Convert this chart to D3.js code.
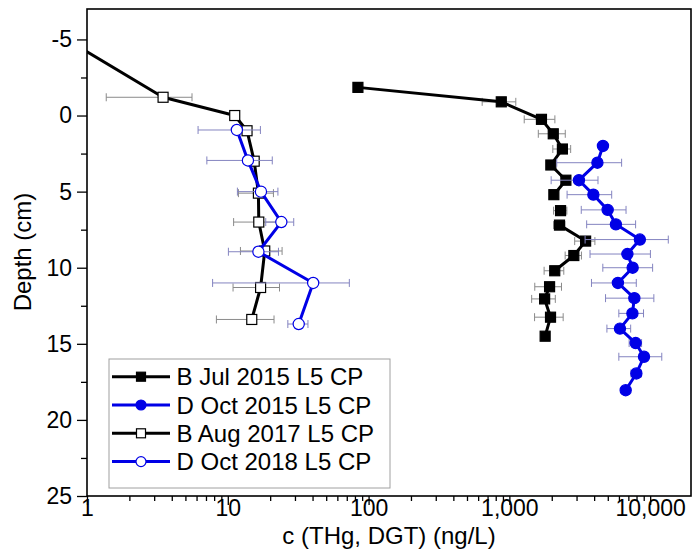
<!DOCTYPE html>
<html>
<head>
<meta charset="utf-8">
<script src="https://cdn.jsdelivr.net/npm/d3@7"></script>
<style>
  html, body { margin: 0; padding: 0; background: #fff; }
  svg { display: block; font-family: "Liberation Sans", Arial, sans-serif; }
</style>
</head>
<body>
<div id="chart"></div>
<script>
// Depth profiles of THg (DGT) – log x axis, depth downwards

const SERIES_NAMES = ["B Jul 2015 L5 CP", "D Oct 2015 L5 CP", "B Aug 2017 L5 CP", "D Oct 2018 L5 CP"];

// B Jul 2015 (filled squares); null = break in the line
const B15_DEPTH = [-1.85, -0.9, 0.25, 1.2, 2.2, 3.25, 4.25, 5.2, null, 6.25, null, 7.2, 8.25, 9.2, 10.2, null, 11.25, 12.05, 13.25, 14.5];
const B15_CONC  = [84, 876, 1690, 2050, 2380, 1970, 2520, 2070, null, 2310, null, 2270, 3480, 2870, 2100, null, 1930, 1780, 1960, 1795];
const B15_ERR   = [null, 235, 415, 445, 345, null, null, null, null, 250, null, 210, 570, 380, 335, null, 415, 340, 450, null];

// D Oct 2015 (filled circles)
const D15_DEPTH = [2, 3.1, 4.25, 5.2, 6.2, 7.15, 8.15, 9.1, 10, 11, 12, 13, 14, 14.95, 15.85, 16.95, 18.05];
const D15_CONC  = [4620, 4220, 3120, 3950, 4990, 5710, 8450, 6890, 7510, 5900, 7720, 7480, 6100, 7890, 9040, 7980, 6700];
const D15_ERR   = [null, 2050, 1140, 1380, 1750, 2170, 5000, 3150, 2900, 2070, 2900, 1490, 1170, 800, 3050, 680, null];

// B Aug 2017 (open squares)
const B17_DEPTH = [-6.1, -1.2, 0, 1, 3, 5.1, 7, 8.9, 11.3, 13.4];
const B17_CONC  = [0.45, 3.47, 11.2, 13.7, 15.4, 16.5, 16.6, 18.3, 17.1, 14.8];
const B17_ERR   = [null, 2.1, null, null, null, 4.6, 5.6, 6, 6.2, 6.5];

// D Oct 2018 (open circles)
const D18_DEPTH = [0.95, 2.95, 5, 7, 8.95, 11, 13.7];
const D18_CONC  = [11.6, 13.9, 17.2, 24, 16.5, 40.4, 31.9];
const D18_ERR   = [5.45, 6.8, 5.5, 5.4, 6.4, 32.6, 5.2];

const X_TICKS = [1, 10, 100, 1000, 10000];
const Y_TICKS = [-5, 0, 5, 10, 15, 20, 25];
const Y_MINOR = [-2.5, 2.5, 7.5, 12.5, 17.5, 22.5];

const BLUE = "#0000e6";

/* ── Layout ── */
const totalW = 694, totalH = 555;
const margin = { top: 9, right: 3, bottom: 59, left: 87 };
const W = totalW - margin.left - margin.right;
const H = totalH - margin.top - margin.bottom;

const svg = d3.select("#chart").append("svg")
  .attr("width", totalW).attr("height", totalH);
const g = svg.append("g").attr("transform", `translate(${margin.left},${margin.top})`);

/* ── Scales ── */
const x = d3.scaleLog().domain([1, 19500]).range([0, W]);
const y = d3.scaleLinear().domain([-7, 25]).range([0, H]);

const zip = (dep, conc, err) => dep.map((d, i) => ({ depth: d, c: conc[i], e: err[i] }));
const series = [
  { data: zip(B15_DEPTH, B15_CONC, B15_ERR), color: "#000", bar: "#8a8a8a", shape: "square", fill: "#000" },
  { data: zip(D15_DEPTH, D15_CONC, D15_ERR), color: BLUE,   bar: "#8484c0", shape: "circle", fill: BLUE },
  { data: zip(B17_DEPTH, B17_CONC, B17_ERR), color: "#000", bar: "#8a8a8a", shape: "square", fill: "#fff" },
  { data: zip(D18_DEPTH, D18_CONC, D18_ERR), color: BLUE,   bar: "#8484c0", shape: "circle", fill: "#fff" },
];

/* ── Clip ── */
svg.append("defs").append("clipPath").attr("id", "plot-clip")
  .append("rect").attr("width", W).attr("height", H);
const plot = g.append("g").attr("clip-path", "url(#plot-clip)");

const line = d3.line()
  .defined(d => d.c != null)
  .x(d => x(d.c)).y(d => y(d.depth));

function drawMarker(sel, s) {
  if (s.shape === "square") {
    sel.append("rect")
      .attr("x", -5).attr("y", -5).attr("width", 10).attr("height", 10)
      .attr("fill", s.fill).attr("stroke", s.color).attr("stroke-width", 1.2);
  } else {
    sel.append("circle").attr("r", 5.6)
      .attr("fill", s.fill).attr("stroke", s.color).attr("stroke-width", 1.2);
  }
}

series.forEach(s => {
  const pts = s.data.filter(d => d.c != null);

  // error bars (horizontal)
  const bars = plot.append("g").attr("stroke", s.bar).attr("stroke-width", 1).attr("fill", "none");
  pts.filter(d => d.e != null && d.c - d.e > 0).forEach(d => {
    const x0 = x(d.c - d.e), x1 = x(d.c + d.e), yy = y(d.depth);
    bars.append("line").attr("x1", x0).attr("x2", x1).attr("y1", yy).attr("y2", yy);
    bars.append("line").attr("x1", x0).attr("x2", x0).attr("y1", yy - 4).attr("y2", yy + 4);
    bars.append("line").attr("x1", x1).attr("x2", x1).attr("y1", yy - 4).attr("y2", yy + 4);
  });

  plot.append("path").datum(s.data)
    .attr("d", line).attr("fill", "none")
    .attr("stroke", s.color).attr("stroke-width", 3).attr("stroke-linejoin", "round");

  plot.selectAll(null).data(pts).join("g")
    .attr("transform", d => `translate(${x(d.c)},${y(d.depth)})`)
    .each(function () { drawMarker(d3.select(this), s); });
});

/* ── Axes ── */
const minorX = [];
X_TICKS.forEach(t => { for (let k = 2; k <= 9; k++) if (t * k < 19500) minorX.push(t * k); });

const xAxis = g.append("g").attr("transform", `translate(0,${H})`);
xAxis.call(d3.axisBottom(x).tickValues(minorX).tickSize(5).tickFormat(""))
  .call(ax => ax.select(".domain").remove());
xAxis.append("g")
  .call(d3.axisBottom(x).tickValues(X_TICKS).tickSize(9).tickPadding(-5).tickFormat(d3.format(",")))
  .call(ax => ax.select(".domain").remove())
  .selectAll("text").attr("font-size", 23).attr("fill", "#000")
  .attr("font-family", "Liberation Sans, Arial, sans-serif");
xAxis.selectAll("line").attr("stroke", "#000").attr("stroke-width", 1.3);

const yAxis = g.append("g");
yAxis.call(d3.axisLeft(y).tickValues(Y_MINOR).tickSize(6).tickFormat(""))
  .call(ax => ax.select(".domain").remove());
yAxis.append("g")
  .call(d3.axisLeft(y).tickValues(Y_TICKS).tickSize(10).tickPadding(5).tickFormat(d => String(d)))
  .call(ax => ax.select(".domain").remove())
  .selectAll("text").attr("font-size", 23).attr("fill", "#000")
  .attr("font-family", "Liberation Sans, Arial, sans-serif");
yAxis.selectAll("line").attr("stroke", "#000").attr("stroke-width", 1.3);

/* ── Frame ── */
g.append("rect").attr("width", W).attr("height", H)
  .attr("fill", "none").attr("stroke", "#000").attr("stroke-width", 1.6);

/* ── Axis labels ── */
g.append("text").attr("x", W / 2).attr("y", H + 48)
  .attr("text-anchor", "middle").attr("font-size", 24).attr("fill", "#000")
  .text("c (THg, DGT) (ng/L)");

g.append("text").attr("transform", "rotate(-90)")
  .attr("x", -(252 - margin.top)).attr("y", 31 - margin.left)
  .attr("text-anchor", "middle").attr("font-size", 24).attr("fill", "#000")
  .text("Depth (cm)");

/* ── Legend ── */
const lg = svg.append("g").attr("transform", "translate(109,359)");
lg.append("rect").attr("width", 281).attr("height", 129)
  .attr("fill", "#fff").attr("stroke", "#a0a0a0").attr("stroke-width", 1);

series.forEach((s, i) => {
  const row = lg.append("g").attr("transform", `translate(0,${17.7 + i * 28.3})`);
  row.append("line").attr("x1", 3).attr("x2", 61).attr("y1", 0).attr("y2", 0)
    .attr("stroke", s.color).attr("stroke-width", 3);
  const m = row.append("g").attr("transform", "translate(32,0)");
  if (s.shape === "square") {
    m.append("rect").attr("x", -4.5).attr("y", -4.5).attr("width", 9).attr("height", 9)
      .attr("fill", s.fill).attr("stroke", s.color).attr("stroke-width", 1.2);
  } else {
    m.append("circle").attr("r", 5)
      .attr("fill", s.fill).attr("stroke", s.color).attr("stroke-width", 1.2);
  }
  row.append("text").attr("x", 67.5).attr("y", 8.5)
    .attr("font-size", 24).attr("fill", "#000")
    .text(SERIES_NAMES[i]);
});
</script>
</body>
</html>
